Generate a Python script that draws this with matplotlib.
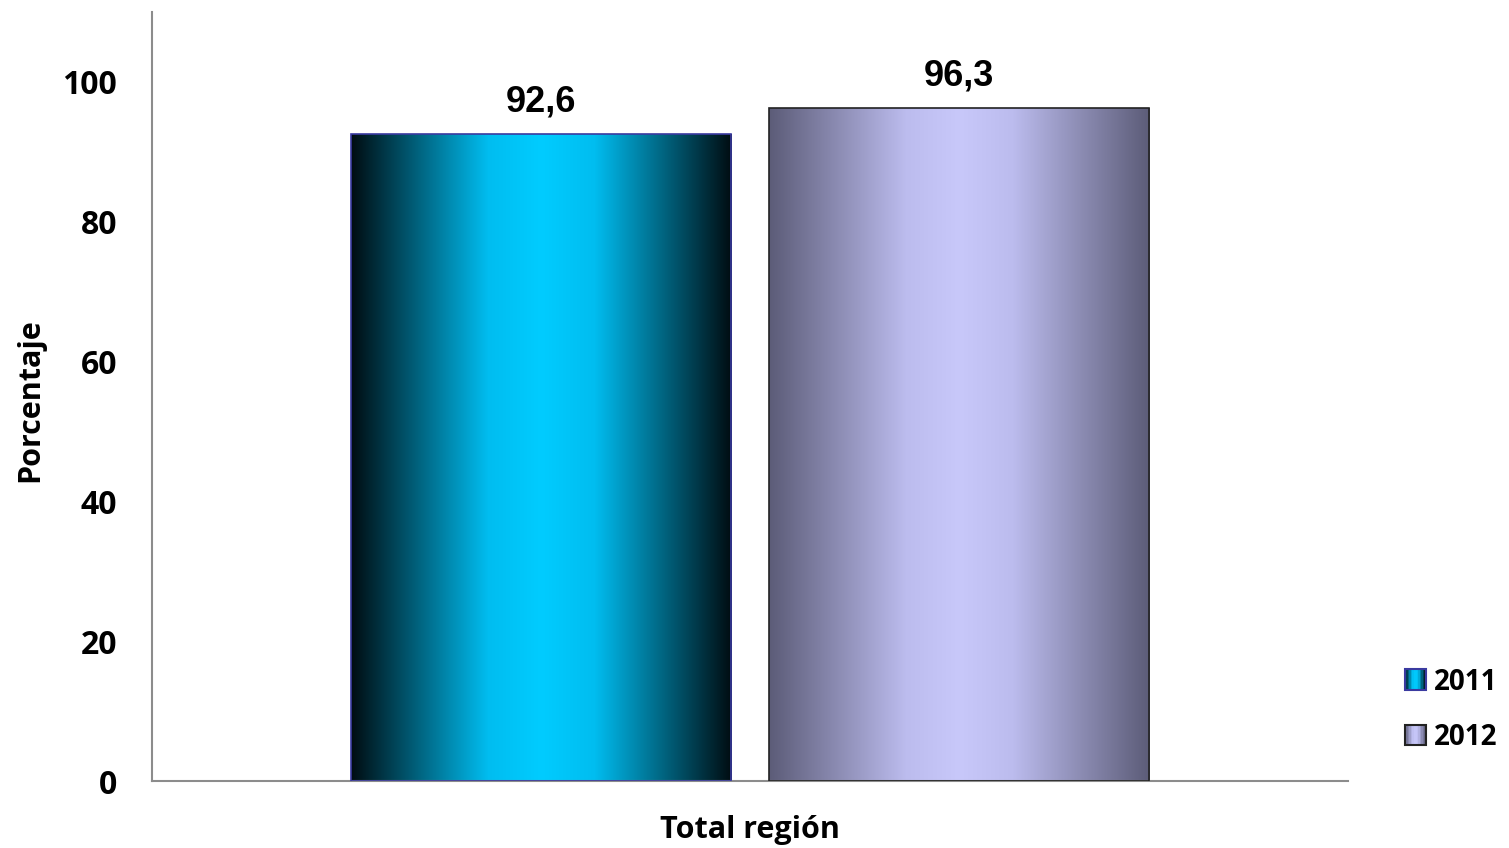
import numpy as np
import matplotlib
matplotlib.use("Agg")
import matplotlib.pyplot as plt
from matplotlib.colors import LinearSegmentedColormap
from matplotlib.patches import Rectangle
from matplotlib.legend_handler import HandlerBase

# ---- data ----
category = "Total región"
years = ["2011", "2012"]
values = [92.6, 96.3]
value_labels = ["92,6", "96,3"]
yticks = [0, 20, 40, 60, 80, 100]
ylabel = "Porcentaje"

# ---- style ----
grad_2011 = [(0.0, "#000d12"), (0.36, "#00bdf0"), (0.5, "#00ccff"), (0.64, "#00bdf0"), (1.0, "#000d12")]
grad_2012 = [(0.0, "#5c5c78"), (0.36, "#bcbcee"), (0.5, "#c8c8fa"), (0.64, "#bcbcee"), (1.0, "#5c5c78")]
edges = ["#3a3aa0", "#222222"]
cmaps = [LinearSegmentedColormap.from_list("g11", grad_2011),
         LinearSegmentedColormap.from_list("g12", grad_2012)]

label_font = "Open Sans"
value_font = "Liberation Sans"

fig = plt.figure(figsize=(15.09, 8.48), dpi=100)
ax = fig.add_axes([152/1509, 67/848, 1196/1509, 769/848])

x0 = 0.0
width = 0.318
offsets = [-0.1745, 0.1745]
grad = np.linspace(0, 1, 512).reshape(1, -1)

for i, (yr, v) in enumerate(zip(years, values)):
    xc = x0 + offsets[i]
    bars = ax.bar(xc, v, width=width, facecolor="none", edgecolor=edges[i], linewidth=1.2, zorder=3)
    patch = bars[0]
    im = ax.imshow(grad, cmap=cmaps[i], aspect="auto",
                   extent=(xc - width/2, xc + width/2, 0, v), zorder=2, interpolation="bilinear")
    im.set_clip_path(patch)
    ax.text(xc, v + 2.0, value_labels[i], ha="center", va="bottom",
            fontsize=26, fontweight="bold", family=value_font, zorder=4)

ax.set_xlim(-0.5, 0.5)
ax.set_ylim(0, 110)
ax.set_yticks(yticks)
ax.set_yticklabels([str(t) for t in yticks], fontsize=23, fontweight="bold", family=label_font)
ax.tick_params(axis="y", length=0, pad=25)
ax.set_xticks([])

for s in ["top", "right"]:
    ax.spines[s].set_visible(False)
for s in ["left", "bottom"]:
    ax.spines[s].set_color("#8c8c8c")
    ax.spines[s].set_linewidth(1.5)

fig.text(750/1509, 1 - 830/848, category, ha="center", va="center",
         fontsize=22, fontweight="bold", family=label_font)
fig.text(30/1509, 1 - 400/848, ylabel, ha="center", va="center", rotation=90,
         fontsize=22, fontweight="bold", family=label_font)


class GradHandler(HandlerBase):
    def __init__(self, cmap, edge):
        super().__init__()
        self.cmap = cmap
        self.edge = edge

    def create_artists(self, legend, orig_handle, xdescent, ydescent, width, height, fontsize, trans):
        arts = []
        n = 14
        w = width / n
        for k in range(n):
            r = Rectangle((k * w, 0), w, height,
                          facecolor=self.cmap((k + 0.5) / n), edgecolor="none", transform=trans)
            arts.append(r)
        arts.append(Rectangle((0, 0), width, height, facecolor="none",
                              edgecolor=self.edge, linewidth=1.5, transform=trans))
        return arts


h1 = Rectangle((0, 0), 1, 1)
h2 = Rectangle((0, 0), 1, 1)
leg = fig.legend([h1, h2], years, loc="center left", bbox_to_anchor=(1405/1509, 1 - 710/848),
                 frameon=False, handler_map={h1: GradHandler(cmaps[0], edges[0]),
                                            h2: GradHandler(cmaps[1], edges[1])},
                 prop={"family": label_font, "weight": "bold", "size": 20},
                 handlelength=0.75, handleheight=0.75, handletextpad=0.3, labelspacing=0.95,
                 borderaxespad=0, borderpad=0)

fig.savefig("out.png", dpi=100)
